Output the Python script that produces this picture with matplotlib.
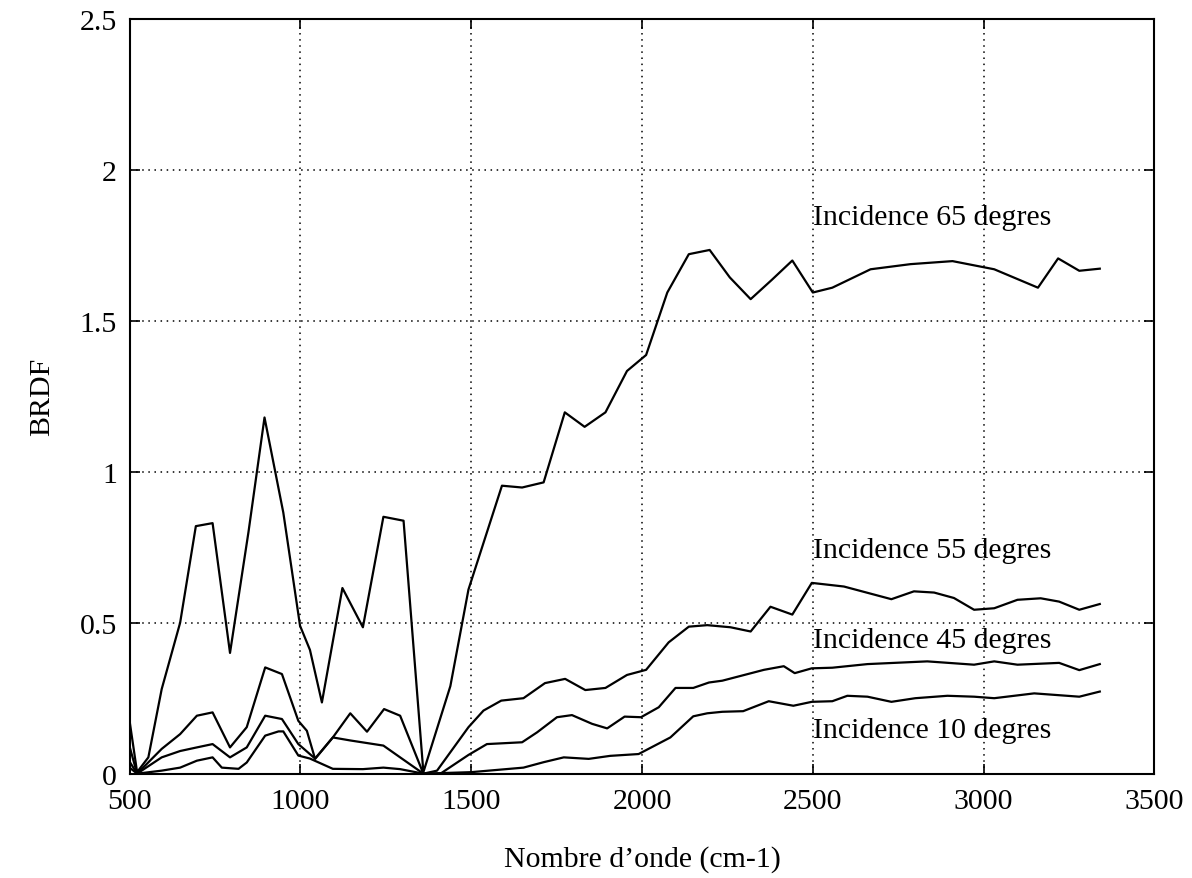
import matplotlib
matplotlib.use("Agg")
import matplotlib.pyplot as plt

# === données ===
x65 = [500, 522, 555, 594, 648, 694, 743, 794, 848, 895, 950, 999, 1028, 1063, 1123, 1183,
       1243, 1302, 1360, 1439, 1492, 1590, 1649, 1712, 1774, 1832, 1893, 1956, 2012, 2074,
       2137, 2198, 2257, 2318, 2380, 2440, 2500, 2557, 2669, 2786, 2909, 3031, 3159, 3218,
       3280, 3340]
y65 = [0.175, 0.005, 0.054, 0.28, 0.50, 0.82, 0.83, 0.40, 0.80, 1.18, 0.865, 0.49, 0.41,
       0.236, 0.615, 0.485, 0.851, 0.838, 0.005, 0.29, 0.61, 0.954, 0.948, 0.965, 1.197,
       1.149, 1.197, 1.334, 1.387, 1.594, 1.721, 1.735, 1.644, 1.572, 1.636, 1.70, 1.594,
       1.61, 1.671, 1.688, 1.698, 1.671, 1.61, 1.707, 1.666, 1.673]

x55 = [500, 522, 594, 648, 697, 743, 794, 843, 897, 946, 994, 1019, 1043, 1095, 1146, 1195,
       1245, 1292, 1360, 1400, 1492, 1536, 1588, 1653, 1716, 1775, 1834, 1893, 1956, 2012,
       2078, 2137, 2191, 2259, 2318, 2376, 2440, 2497, 2591, 2730, 2796, 2855, 2913, 2972,
       3031, 3099, 3167, 3221, 3280, 3340]
y55 = [0.09, 0.0, 0.082, 0.131, 0.192, 0.203, 0.087, 0.154, 0.352, 0.33, 0.175, 0.142,
       0.049, 0.12, 0.20, 0.139, 0.214, 0.192, 0.0, 0.01, 0.154, 0.209, 0.242, 0.25, 0.30,
       0.314, 0.277, 0.284, 0.327, 0.344, 0.435, 0.487, 0.492, 0.485, 0.471, 0.553, 0.527,
       0.632, 0.62, 0.578, 0.604, 0.60, 0.582, 0.543, 0.548, 0.576, 0.581, 0.570, 0.543,
       0.562]

x45 = [500, 522, 594, 648, 697, 743, 794, 843, 897, 946, 994, 1043, 1095, 1146, 1243, 1292,
       1360, 1410, 1492, 1546, 1649, 1693, 1751, 1795, 1854, 1898, 1949, 1997, 2049, 2098,
       2150, 2196, 2235, 2357, 2415, 2447, 2497, 2557, 2660, 2835, 2972, 3031, 3099, 3221,
       3280, 3340]
y45 = [0.04, 0.0, 0.054, 0.075, 0.087, 0.098, 0.054, 0.087, 0.192, 0.181, 0.098, 0.05,
       0.12, 0.11, 0.093, 0.054, 0.0, 0.0, 0.062, 0.098, 0.104, 0.137, 0.187, 0.194, 0.165,
       0.15, 0.189, 0.187, 0.22, 0.284, 0.284, 0.302, 0.308, 0.344, 0.356, 0.333, 0.349,
       0.351, 0.363, 0.372, 0.361, 0.372, 0.361, 0.367, 0.343, 0.363]

x10 = [500, 522, 594, 648, 697, 743, 770, 819, 843, 897, 936, 950, 994, 1028, 1095, 1183,
       1243, 1292, 1360, 1500, 1653, 1712, 1771, 1844, 1907, 1990, 2083, 2150, 2191, 2235,
       2296, 2371, 2443, 2497, 2557, 2601, 2660, 2730, 2800, 2894, 2972, 3031, 3148, 3280,
       3340]
y10 = [0.02, 0.0, 0.01, 0.02, 0.043, 0.054, 0.02, 0.016, 0.037, 0.126, 0.14, 0.14, 0.06,
       0.05, 0.016, 0.015, 0.02, 0.015, 0.0, 0.005, 0.02, 0.038, 0.054, 0.049, 0.059, 0.065,
       0.12, 0.19, 0.20, 0.205, 0.207, 0.24, 0.225, 0.238, 0.24, 0.258, 0.255, 0.238, 0.25,
       0.258, 0.255, 0.25, 0.266, 0.255, 0.272]

labels = ["Incidence 65 degres", "Incidence 55 degres", "Incidence 45 degres", "Incidence 10 degres"]
label_y = [1.82, 0.7175, 0.4195, 0.1215]

xticks = [500, 1000, 1500, 2000, 2500, 3000, 3500]
yticks = [0, 0.5, 1, 1.5, 2, 2.5]
ytick_labels = ["0", "0.5", "1", "1.5", "2", "2.5"]

plt.rcParams['font.family'] = ['Liberation Serif', 'DejaVu Serif']

fig = plt.figure(figsize=(11.92, 8.79), dpi=100)
ax = fig.add_axes([0.1087, 0.1187, 0.9595 - 0.1087 + 0.009, 0.9772 - 0.1187])

for xs, ys in [(x65, y65), (x55, y55), (x45, y45), (x10, y10)]:
    ax.plot(xs, ys, color='black', linewidth=1.6)

for lab, ly in zip(labels, label_y):
    ax.text(2500, ly, lab, fontsize=21.5, ha='left', va='baseline')

ax.set_xlim(500, 3500)
ax.set_ylim(0, 2.5)
ax.set_xticks(xticks)
ax.set_xticklabels([str(t) for t in xticks])
ax.set_yticks(yticks)
ax.set_yticklabels(ytick_labels)
ax.tick_params(direction='in', top=True, right=True, length=7, width=1.2,
               labelsize=21.5)
ax.tick_params(axis='x', pad=10)
ax.tick_params(axis='y', pad=9)
ax.grid(True, color='black', linestyle=(0, (1, 3)), linewidth=1.1)
for sp in ax.spines.values():
    sp.set_linewidth(1.5)

ax.set_xlabel("Nombre d\u2019onde (cm-1)", fontsize=21.5, labelpad=23)
ax.set_ylabel("BRDF", fontsize=21.5, labelpad=18)

fig.savefig("out.png", dpi=100)
